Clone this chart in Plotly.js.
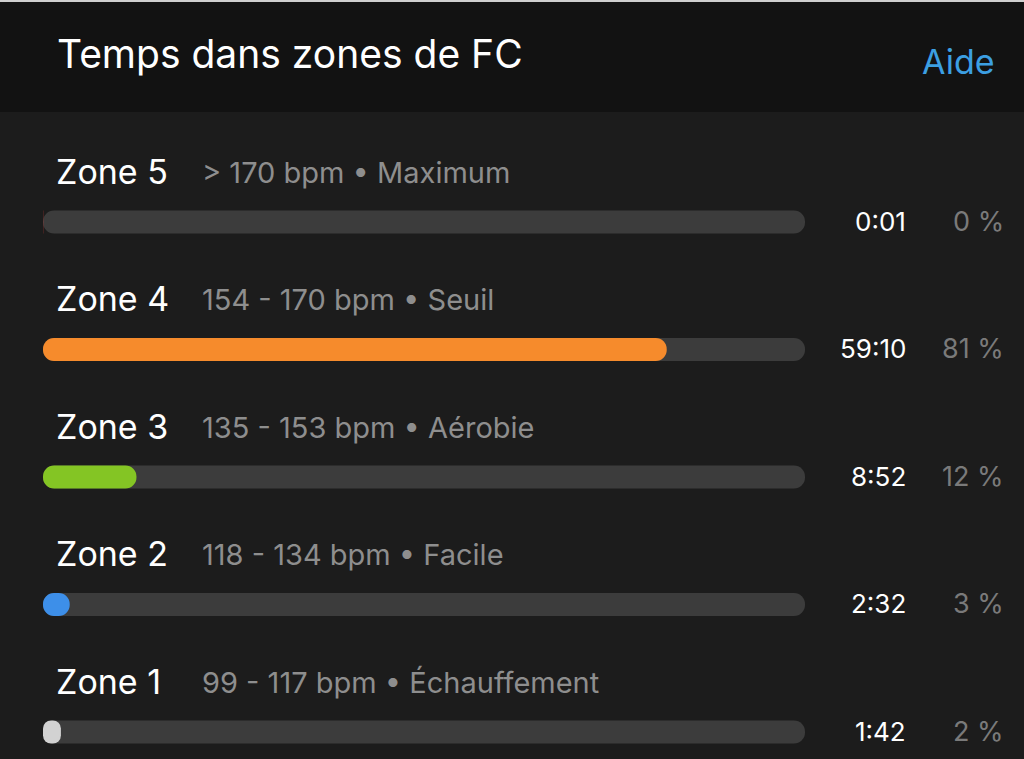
<!DOCTYPE html>
<html>
<head>
<meta charset="utf-8">
<script src="https://cdn.plot.ly/plotly-3.0.1.min.js"></script>
<style>
html,body{margin:0;padding:0;background:#1c1c1c;}
#chart{width:1024px;height:759px;}
</style>
</head>
<body>
<div id="chart"></div>
<script>
// ---- data ----
const zones = ["Zone 5", "Zone 4", "Zone 3", "Zone 2", "Zone 1"];
const ranges = ["> 170 bpm • Maximum", "154 - 170 bpm • Seuil", "135 - 153 bpm • Aérobie", "118 - 134 bpm • Facile", "99 - 117 bpm • Échauffement"];
const times = ["0:01", "59:10", "8:52", "2:32", "1:42"];
const percents = ["0 %", "81 %", "12 %", "3 %", "2 %"];
const zoneColors = ["#e8453c", "#f68b2c", "#84c524", "#3d8fe9", "#d2d2d2"];
const titleText = "Temps dans zones de FC";
const helpText = "Aide";

// ---- derived ----
const seconds = times.map(t => { const p = t.split(":").map(Number); return p[0] * 60 + p[1]; });
const total = seconds.reduce((a, b) => a + b, 0);

const FONT = "Inter, 'Open Sans', sans-serif";
const W = 1024, H = 759;
const L = 43, R = 219, T = 112, B = 0;
const plotH = H - T - B;
const rowPx = 127.5;
const firstCenter = 222;
const yTop = -(firstCenter - T) / rowPx;
const yBot = (H - B - firstCenter) / rowPx;
const barW = 23 / rowPx;

const track = {
  type: "bar", orientation: "h", y: zones, x: zones.map(() => total), base: zones.map(() => 0),
  width: barW, marker: { color: "#3c3c3c", cornerradius: "50%", line: { width: 0 } },
  hoverinfo: "skip", showlegend: false
};
const fill = {
  type: "bar", orientation: "h", y: zones, x: seconds, base: zones.map(() => 0),
  width: barW, marker: { color: zoneColors, cornerradius: "50%", line: { width: 0 } },
  hoverinfo: "skip", showlegend: false
};

const annotations = [];
zones.forEach((z, i) => {
  annotations.push({
    xref: "x", yref: "y", x: 0, y: z, xanchor: "left", yanchor: "middle",
    xshift: 11, yshift: 51, showarrow: false,
    text: z, font: { family: FONT, size: 34, color: "#ffffff" }
  });
  annotations.push({
    xref: "x", yref: "y", x: 0, y: z, xanchor: "left", yanchor: "middle",
    xshift: 157, yshift: 50, showarrow: false,
    text: ranges[i], font: { family: FONT, size: 29, color: "#8e8e8e" }
  });
  annotations.push({
    xref: "paper", yref: "y", x: 1, y: z, xanchor: "right", yanchor: "middle",
    xshift: 103, yshift: 1, showarrow: false,
    text: times[i], font: { family: FONT, size: 26, color: "#ffffff" }
  });
  annotations.push({
    xref: "paper", yref: "y", x: 1, y: z, xanchor: "right", yanchor: "middle",
    xshift: 201, yshift: 1, showarrow: false,
    text: percents[i], font: { family: FONT, size: 27, color: "#7a7a7a" }
  });
});
annotations.push({
  xref: "paper", yref: "paper", x: 1 + (997 - 805) / (W - L - R), y: 1 + (T - 61) / plotH,
  xanchor: "right", yanchor: "middle", showarrow: false,
  text: helpText, font: { family: FONT, size: 34, color: "#3c9fe2" }
});
annotations.push({
  xref: "paper", yref: "paper", x: (55 - L) / (W - L - R), y: 1 + (T - 54) / plotH,
  xanchor: "left", yanchor: "middle", showarrow: false,
  text: titleText, font: { family: FONT, size: 39, color: "#ffffff" }
});

const layout = {
  width: W, height: H,
  margin: { l: L, r: R, t: T, b: B, pad: 0 },
  paper_bgcolor: "#1c1c1c", plot_bgcolor: "#1c1c1c",
  barmode: "overlay",
  xaxis: { range: [0, total], showgrid: false, zeroline: false, showticklabels: false, showline: false, fixedrange: true },
  yaxis: { type: "category", categoryorder: "array", categoryarray: zones,
           range: [yBot, yTop], showgrid: false, zeroline: false, showticklabels: false, showline: false, fixedrange: true },
  shapes: [
    { type: "rect", xref: "paper", yref: "paper", x0: -L / (W - L - R), x1: 1 + R / (W - L - R),
      y0: 1, y1: 1 + T / plotH, fillcolor: "#121212", line: { width: 0 }, layer: "below" },
    { type: "rect", xref: "paper", yref: "paper", x0: -L / (W - L - R), x1: 1 + R / (W - L - R),
      y0: 1 + (T - 2) / plotH, y1: 1 + T / plotH + 0.01, fillcolor: "#cfcfcf", line: { width: 0 }, layer: "below" }
  ],
  annotations: annotations
};

Plotly.newPlot("chart", [track, fill], layout, { displayModeBar: false, staticPlot: true });
</script>
</body>
</html>
